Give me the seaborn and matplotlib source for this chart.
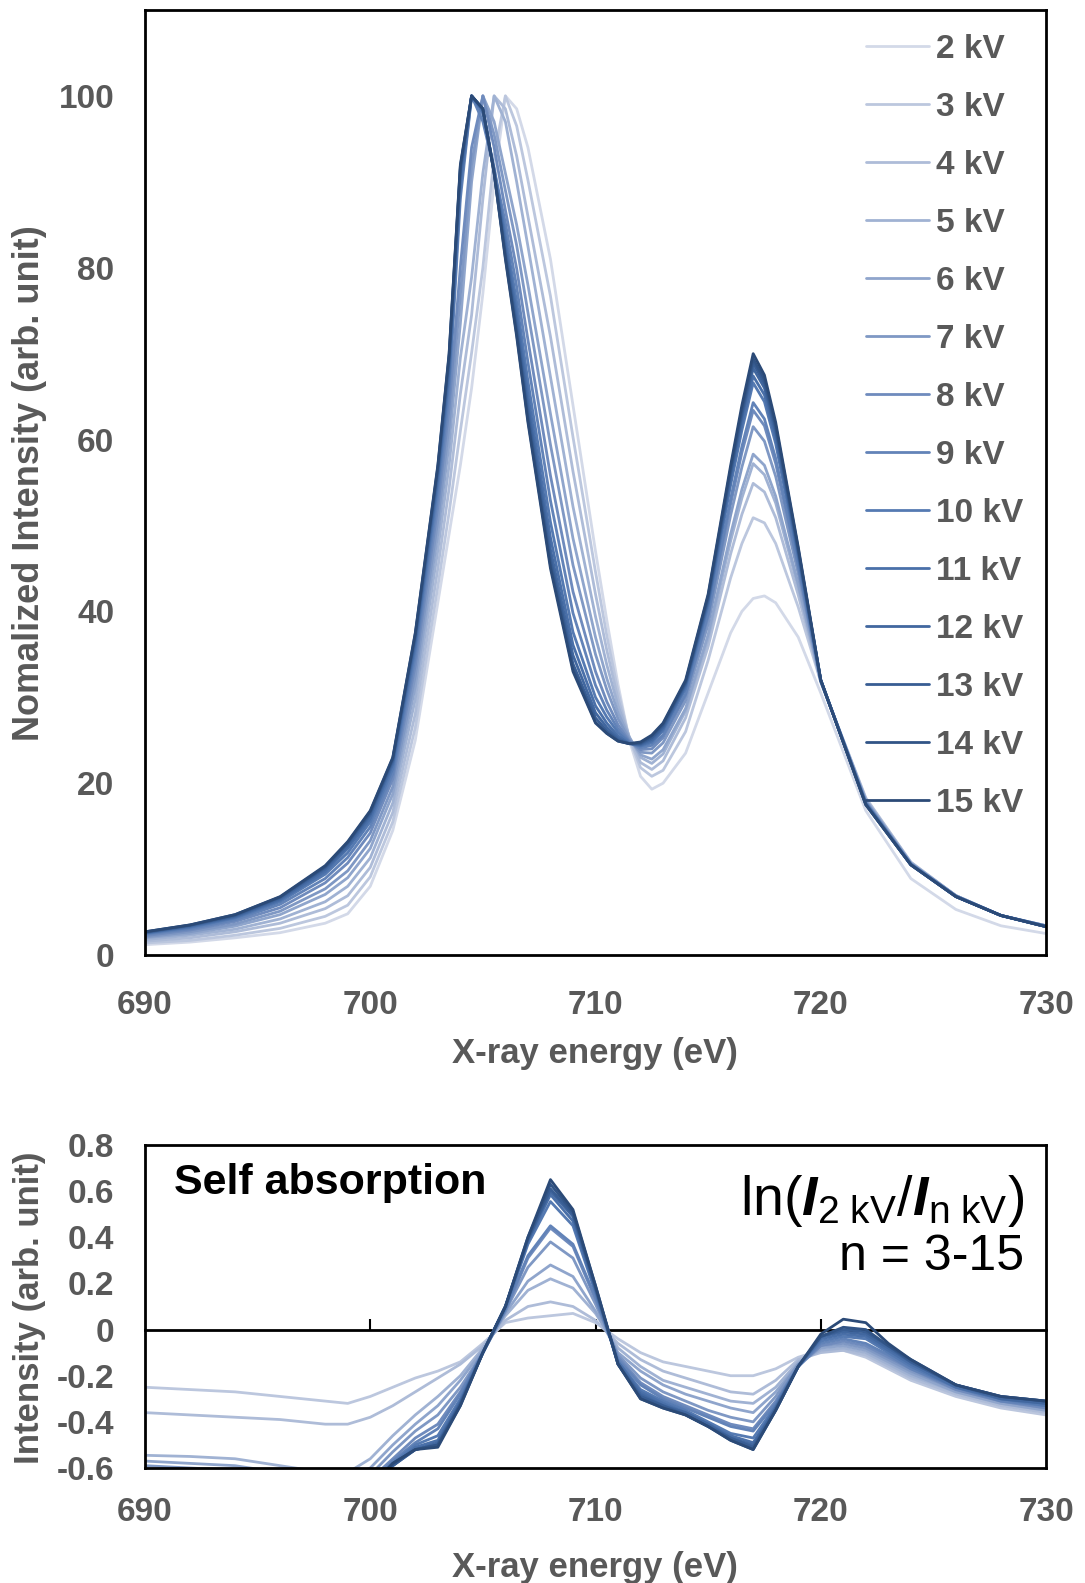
import matplotlib
matplotlib.use("Agg")
import matplotlib.pyplot as plt
import pandas as pd
import seaborn as sns

# --- top panel: normalized spectra ---
energy = [690, 692, 694, 696, 698, 699, 700, 701, 702, 703, 703.5, 704, 704.5, 705, 705.5,
          706, 706.5, 707, 708, 709, 710, 710.5, 711, 711.5, 712, 712.5, 713, 714, 715, 716,
          716.5, 717, 717.5, 718, 719, 720, 722, 724, 726, 728, 730]

int_2kv = [1.2, 1.5, 2.0, 2.6, 3.7, 4.8, 8.0, 14.5, 25.0, 41.0, 49.0, 57.0, 66.0, 77.0, 90.0,
           100, 98.5, 94.0, 81.0, 64.0, 47.0, 39.0, 31.5, 25.0, 20.8, 19.3, 20.0, 23.5, 30.5, 37.5,
           40.0, 41.5, 41.8, 41.0, 37.0, 30.5, 16.8, 8.9, 5.3, 3.4, 2.5]
int_3kv = [1.4, 1.7, 2.3, 3.1, 4.5, 5.8, 9.1, 15.5, 26.5, 42.9, 51.5, 61.0, 70.1, 80.0, 93.0,
           100, 96.5, 90.2, 76.7, 60.3, 44.6, 37.2, 30.7, 25.2, 21.8, 20.8, 21.5, 26.0, 34.3, 43.9,
           47.9, 50.9, 50.3, 47.9, 40.5, 31.8, 18.3, 10.8, 6.9, 4.6, 3.4]
int_4kv = [1.6, 2.0, 2.7, 3.7, 5.4, 6.9, 10.2, 16.6, 28.1, 45.0, 54.3, 65.3, 74.5, 88.0, 100,
           98.5, 93.0, 86.0, 72.0, 56.3, 42.0, 35.5, 29.8, 25.3, 22.4, 21.6, 22.6, 27.6, 35.9, 46.7,
           51.3, 54.9, 53.9, 50.9, 41.9, 31.8, 18.2, 10.8, 6.9, 4.6, 3.4]
int_5kv = [1.8, 2.3, 3.0, 4.2, 6.2, 8.0, 11.3, 17.7, 29.8, 47.1, 57.0, 69.5, 78.9, 91.0, 100,
           97.0, 90.0, 82.5, 67.3, 52.2, 39.4, 33.8, 29.0, 25.4, 23.0, 22.3, 23.4, 28.4, 36.8, 48.2,
           53.2, 57.2, 55.9, 52.6, 42.8, 31.8, 18.1, 10.7, 6.9, 4.6, 3.4]
int_6kv = [2.0, 2.5, 3.35, 4.7, 7.05, 9.0, 12.4, 18.75, 31.25, 49.0, 59.5, 73.5, 90.0, 100, 97.0,
           91.0, 85.0, 78.0, 63.0, 48.5, 37.0, 32.2, 28.2, 25.3, 23.3, 22.8, 23.9, 28.7, 37.3, 49.0,
           54.2, 58.3, 57.0, 53.4, 43.2, 31.9, 18.0, 10.7, 6.9, 4.6, 3.4]
int_7kv = [2.1, 2.7, 3.6, 5.1, 7.7, 9.8, 13.3, 19.6, 32.5, 50.6, 61.6, 76.8, 92.0, 100, 95.5,
           89.0, 82.6, 74.8, 59.4, 45.4, 35.0, 30.9, 27.5, 25.1, 23.6, 23.5, 24.7, 29.6, 38.5, 51.2,
           56.8, 61.5, 59.8, 55.7, 44.4, 31.9, 17.9, 10.6, 6.9, 4.6, 3.4]
int_8kv = [2.25, 2.9, 3.9, 5.5, 8.4, 10.7, 14.2, 20.5, 33.75, 52.2, 63.7, 80.1, 94.0, 100, 94.0,
           86.7, 79.9, 71.6, 55.8, 42.3, 33.0, 29.5, 26.8, 24.9, 23.9, 24.0, 25.3, 30.2, 39.4, 52.5,
           58.5, 63.4, 61.6, 57.2, 45.1, 31.9, 17.8, 10.6, 6.85, 4.6, 3.35]
int_9kv = [2.4, 3.05, 4.1, 5.9, 8.9, 11.35, 14.9, 21.1, 34.75, 53.5, 65.4, 88.0, 100, 97.0, 91.5,
           85.2, 77.8, 69.0, 52.9, 39.8, 31.4, 28.5, 26.3, 24.8, 24.1, 24.4, 25.6, 30.4, 39.7, 53.1,
           59.2, 64.3, 62.4, 57.8, 45.4, 32.0, 17.7, 10.6, 6.85, 4.6, 3.35]
int_10kv = [2.5, 3.2, 4.3, 6.2, 9.4, 11.9, 15.5, 21.7, 35.6, 54.6, 66.9, 89.0, 100, 98.0, 91.5,
            83.8, 76.0, 66.8, 50.4, 37.6, 30.0, 27.7, 25.9, 24.7, 24.3, 24.7, 26.1, 31.0, 40.6, 54.7,
            61.1, 66.6, 64.4, 59.5, 46.2, 32.0, 17.7, 10.55, 6.8, 4.6, 3.35]
int_11kv = [2.55, 3.3, 4.4, 6.4, 9.7, 12.4, 15.9, 22.2, 36.25, 55.4, 67.9, 90.0, 100, 98.3, 91.3,
            82.9, 74.65, 65.2, 48.6, 36.1, 29.0, 27.0, 25.5, 24.6, 24.4, 24.9, 26.3, 31.3, 41.0, 55.2,
            61.8, 67.4, 65.2, 60.1, 46.6, 32.0, 17.6, 10.5, 6.8, 4.6, 3.3]
int_12kv = [2.6, 3.4, 4.5, 6.55, 10.0, 12.7, 16.3, 22.5, 36.75, 56.0, 68.7, 91.0, 100, 98.4, 91.2,
            82.1, 73.6, 63.9, 47.2, 34.9, 28.2, 26.5, 25.2, 24.6, 24.5, 25.1, 26.5, 31.5, 41.3, 55.8,
            62.6, 68.3, 66.0, 60.7, 46.9, 32.0, 17.6, 10.5, 6.8, 4.6, 3.3]
int_13kv = [2.65, 3.45, 4.6, 6.7, 10.2, 13.0, 16.5, 22.75, 37.1, 56.5, 69.4, 91.5, 100, 98.5, 91.0,
            81.6, 72.8, 63.0, 46.1, 33.9, 27.6, 26.1, 25.0, 24.6, 24.6, 25.3, 26.7, 31.7, 41.5, 56.2,
            63.0, 68.9, 66.5, 61.2, 47.1, 32.0, 17.5, 10.5, 6.8, 4.6, 3.3]
int_14kv = [2.7, 3.5, 4.7, 6.75, 10.3, 13.1, 16.7, 22.9, 37.4, 56.8, 69.8, 91.8, 100, 98.5, 91.0,
            81.2, 72.3, 62.3, 45.4, 33.3, 27.1, 25.8, 24.9, 24.6, 24.7, 25.5, 26.9, 31.8, 41.8, 56.6,
            63.5, 69.4, 67.0, 61.6, 47.3, 32.0, 17.5, 10.5, 6.8, 4.6, 3.3]
int_15kv = [2.7, 3.5, 4.7, 6.8, 10.4, 13.2, 16.8, 23.0, 37.5, 57.0, 70.0, 92.0, 100, 98.5, 91.0,
            81.0, 72.0, 62.0, 45.0, 33.0, 27.0, 25.8, 24.9, 24.6, 24.8, 25.6, 27.0, 32.0, 42.0, 57.0,
            64.0, 70.0, 67.5, 62.0, 47.5, 32.0, 17.5, 10.5, 6.8, 4.6, 3.3]

voltages = ["2 kV", "3 kV", "4 kV", "5 kV", "6 kV", "7 kV", "8 kV", "9 kV", "10 kV",
            "11 kV", "12 kV", "13 kV", "14 kV", "15 kV"]

# --- bottom panel: ln(I_2kV / I_nkV) ---
diff_energy = [690, 692, 694, 696, 698, 699, 700, 701, 702, 703, 704, 705, 706, 707, 708, 709,
               710, 711, 712, 713, 714, 715, 716, 717, 718, 719, 720, 721, 722, 723, 724, 726,
               728, 730]

diff_3kv = [-0.25, -0.26, -0.27, -0.29, -0.31, -0.32, -0.29, -0.25, -0.21, -0.18, -0.14, -0.06,
            0.03, 0.05, 0.06, 0.07, 0.03, -0.04, -0.1, -0.14, -0.16, -0.18, -0.2, -0.2, -0.17,
            -0.12, -0.09, -0.09, -0.12, -0.17, -0.22, -0.29, -0.34, -0.37]
diff_4kv = [-0.36, -0.37, -0.38, -0.39, -0.41, -0.41, -0.38, -0.33, -0.27, -0.21, -0.15, -0.07,
            0.04, 0.1, 0.12, 0.1, 0.04, -0.06, -0.13, -0.18, -0.21, -0.24, -0.27, -0.28, -0.22,
            -0.13, -0.1, -0.09, -0.11, -0.16, -0.21, -0.28, -0.33, -0.36]
diff_5kv = [-0.545, -0.55, -0.56, -0.59, -0.62, -0.62, -0.56, -0.46, -0.37, -0.29, -0.2, -0.08,
            0.06, 0.17, 0.22, 0.18, 0.07, -0.08, -0.16, -0.22, -0.25, -0.28, -0.31, -0.32, -0.25,
            -0.14, -0.09, -0.08, -0.1, -0.15, -0.2, -0.27, -0.32, -0.35]
diff_6kv = [-0.57, -0.58, -0.59, -0.62, -0.65, -0.64, -0.6, -0.5, -0.41, -0.33, -0.22, -0.09,
            0.07, 0.21, 0.28, 0.23, 0.08, -0.1, -0.18, -0.24, -0.28, -0.31, -0.34, -0.36, -0.27,
            -0.15, -0.08, -0.07, -0.09, -0.14, -0.19, -0.27, -0.32, -0.35]
diff_7kv = [-0.59, -0.6, -0.61, -0.64, -0.67, -0.67, -0.63, -0.53, -0.44, -0.37, -0.25, -0.1,
            0.08, 0.27, 0.38, 0.31, 0.11, -0.11, -0.21, -0.27, -0.31, -0.35, -0.38, -0.4, -0.29,
            -0.15, -0.07, -0.06, -0.08, -0.13, -0.18, -0.26, -0.31, -0.34]
diff_8kv = [-0.62, -0.63, -0.64, -0.66, -0.69, -0.7, -0.65, -0.56, -0.47, -0.41, -0.27, -0.1,
            0.08, 0.31, 0.44, 0.36, 0.13, -0.12, -0.23, -0.29, -0.33, -0.37, -0.41, -0.43, -0.31,
            -0.16, -0.07, -0.05, -0.07, -0.12, -0.17, -0.26, -0.31, -0.34]
diff_9kv = [-0.65, -0.66, -0.67, -0.69, -0.72, -0.72, -0.66, -0.57, -0.49, -0.43, -0.28, -0.1,
            0.09, 0.32, 0.45, 0.37, 0.14, -0.13, -0.24, -0.3, -0.34, -0.38, -0.42, -0.44, -0.32,
            -0.16, -0.06, -0.04, -0.06, -0.11, -0.17, -0.25, -0.31, -0.33]
diff_10kv = [-0.68, -0.69, -0.7, -0.72, -0.75, -0.75, -0.67, -0.58, -0.5, -0.46, -0.3, -0.1,
             0.09, 0.37, 0.555, 0.45, 0.16, -0.14, -0.26, -0.31, -0.35, -0.4, -0.45, -0.47, -0.33,
             -0.16, -0.05, -0.03, -0.04, -0.1, -0.16, -0.25, -0.3, -0.33]
diff_11kv = [-0.7, -0.71, -0.72, -0.74, -0.77, -0.77, -0.68, -0.59, -0.51, -0.48, -0.31, -0.1,
             0.1, 0.38, 0.585, 0.47, 0.17, -0.14, -0.27, -0.32, -0.36, -0.41, -0.46, -0.49, -0.34,
             -0.16, -0.04, -0.02, -0.03, -0.09, -0.15, -0.25, -0.3, -0.32]
diff_12kv = [-0.72, -0.73, -0.74, -0.76, -0.79, -0.79, -0.68, -0.59, -0.52, -0.49, -0.32, -0.1,
             0.1, 0.39, 0.6, 0.49, 0.18, -0.15, -0.28, -0.33, -0.36, -0.41, -0.47, -0.5, -0.34,
             -0.16, -0.03, -0.01, -0.02, -0.08, -0.14, -0.24, -0.3, -0.32]
diff_13kv = [-0.74, -0.75, -0.76, -0.78, -0.81, -0.81, -0.68, -0.59, -0.52, -0.5, -0.32, -0.1,
             0.1, 0.39, 0.61, 0.5, 0.18, -0.15, -0.29, -0.33, -0.37, -0.42, -0.47, -0.51, -0.35,
             -0.16, -0.03, 0.0, -0.01, -0.07, -0.14, -0.24, -0.29, -0.31]
diff_14kv = [-0.76, -0.77, -0.78, -0.8, -0.83, -0.83, -0.68, -0.58, -0.52, -0.5, -0.33, -0.1,
             0.1, 0.4, 0.63, 0.51, 0.19, -0.15, -0.3, -0.34, -0.37, -0.42, -0.48, -0.52, -0.35,
             -0.16, -0.03, 0.01, 0.0, -0.07, -0.13, -0.24, -0.29, -0.31]
diff_15kv = [-0.8, -0.8, -0.8, -0.82, -0.85, -0.85, -0.68, -0.58, -0.52, -0.51, -0.33, -0.1,
             0.1, 0.4, 0.65, 0.52, 0.19, -0.15, -0.3, -0.34, -0.37, -0.42, -0.48, -0.52, -0.35,
             -0.16, -0.02, 0.045, 0.03, -0.06, -0.13, -0.24, -0.29, -0.31]

spectra = [int_2kv, int_3kv, int_4kv, int_5kv, int_6kv, int_7kv, int_8kv, int_9kv,
           int_10kv, int_11kv, int_12kv, int_13kv, int_14kv, int_15kv]
diffs = [diff_3kv, diff_4kv, diff_5kv, diff_6kv, diff_7kv, diff_8kv, diff_9kv,
         diff_10kv, diff_11kv, diff_12kv, diff_13kv, diff_14kv, diff_15kv]

rows = []
for v, ys in zip(voltages, spectra):
    for e, y in zip(energy, ys):
        rows.append((v, e, y))
df_top = pd.DataFrame(rows, columns=["voltage", "energy", "intensity"])

rows = []
for v, ys in zip(voltages[1:], diffs):
    for e, y in zip(diff_energy, ys):
        rows.append((v, e, y))
df_diff = pd.DataFrame(rows, columns=["voltage", "energy", "value"])

colors = ["#d3d9e8", "#bcc7de", "#aebcd8", "#a0b2d3", "#8fa5cc", "#7f98c4", "#6f8bbd",
          "#6283b8", "#557ab2", "#4a70a9", "#41679f", "#385d93", "#315486", "#2b4a77"]
gray = "#595959"

sns.set_theme(style="white")
plt.rcParams["font.family"] = ["Liberation Sans", "DejaVu Sans"]
plt.rcParams["mathtext.fontset"] = "custom"
plt.rcParams["mathtext.rm"] = "Liberation Sans"
plt.rcParams["mathtext.it"] = "Liberation Sans:italic"
plt.rcParams["mathtext.bf"] = "Liberation Sans:bold"
plt.rcParams["mathtext.bfit"] = "Liberation Sans:italic:bold"

fig = plt.figure(figsize=(10.85, 15.83), dpi=100)
W, H = 1085, 1583
ax1 = fig.add_axes([145 / W, 1 - 955 / H, 901 / W, 945 / H])
ax2 = fig.add_axes([145 / W, 1 - 1468 / H, 901 / W, 323 / H])

sns.lineplot(data=df_top, x="energy", y="intensity", hue="voltage", hue_order=voltages,
             palette=colors, linewidth=2, estimator=None, legend=False, ax=ax1)
sns.lineplot(data=df_diff, x="energy", y="value", hue="voltage", hue_order=voltages[1:],
             palette=colors[1:], linewidth=2, estimator=None, legend=False, ax=ax2)

for ax in (ax1, ax2):
    ax.set_xlim(690, 730)
    ax.set_xticks([690, 700, 710, 720, 730])
    for s in ax.spines.values():
        s.set_linewidth(2)
        s.set_color("black")
    ax.set_xlabel("")
    ax.set_ylabel("")

ax1.set_ylim(0, 110)
ax1.set_yticks([0, 20, 40, 60, 80, 100])
ax1.tick_params(axis="both", direction="in", length=8, width=1.5, color="black",
                labelsize=24, labelcolor=gray)
ax1.tick_params(axis="y", pad=22)
ax1.tick_params(axis="x", pad=25)

ax2.set_ylim(-0.6, 0.8)
ax2.set_yticks([-0.6, -0.4, -0.2, 0, 0.2, 0.4, 0.6, 0.8])
ax2.set_yticklabels(["-0.6", "-0.4", "-0.2", "0", "0.2", "0.4", "0.6", "0.8"])
ax2.tick_params(axis="y", direction="in", length=8, width=1.5, color="black",
                labelsize=24, labelcolor=gray, pad=22)
ax2.tick_params(axis="x", length=0, labelsize=24, labelcolor=gray, pad=21)

# zero line carrying the x ticks
sec = ax2.secondary_xaxis(0.6 / 1.4)
sec.set_xticks([700, 710, 720])
sec.tick_params(axis="x", direction="in", length=8, width=1.5, color="black",
                labelbottom=False, labeltop=False)
for s in sec.spines.values():
    s.set_linewidth(2)
    s.set_color("black")

for ax in (ax1, ax2):
    for lab in ax.get_xticklabels() + ax.get_yticklabels():
        lab.set_fontweight("bold")

leg = ax1.legend(handles=ax1.lines[:len(voltages)], labels=voltages, loc="upper left",
                 bbox_to_anchor=(0.80, 0.975), frameon=False, borderpad=0, borderaxespad=0,
                 handlelength=1.9, handletextpad=0.2, labelspacing=0.81,
                 prop={"weight": "bold", "size": 24})
for t in leg.get_texts():
    t.set_color(gray)

fig.text(30 / W, 1 - 483 / H, "Nomalized Intensity (arb. unit)", rotation=90, ha="center",
         va="center", fontsize=26, fontweight="bold", color=gray)
fig.text(595 / W, 1 - 1053 / H, "X-ray energy (eV)", ha="center", va="center",
         fontsize=25, fontweight="bold", color=gray)
fig.text(30 / W, 1 - 1308 / H, "Intensity (arb. unit)", rotation=90, ha="center",
         va="center", fontsize=25, fontweight="bold", color=gray)
fig.text(595 / W, 1 - 1567 / H, "X-ray energy (eV)", ha="center", va="center",
         fontsize=25, fontweight="bold", color=gray)

ax2.text(0.032, 0.882, "Self absorption", transform=ax2.transAxes, ha="left", va="center",
         fontsize=31, fontweight="bold", color="black")
ax2.text(0.9756, 0.827, r"ln($\mathbfit{I}_{\mathrm{2\ kV}}$/$\mathbfit{I}_{\mathrm{n\ kV}}$)",
         transform=ax2.transAxes, ha="right", va="center", fontsize=40, color="black")
ax2.text(0.9756, 0.653, "n = 3-15", transform=ax2.transAxes, ha="right", va="center",
         fontsize=36, color="black")

fig.savefig("out.png", dpi=100)
